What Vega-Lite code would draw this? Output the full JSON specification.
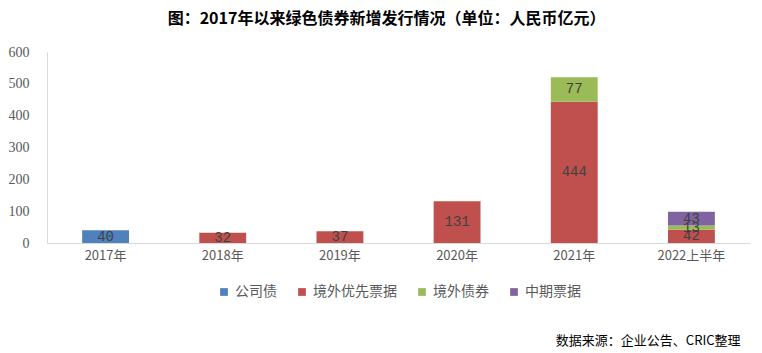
{
  "$schema": "https://vega.github.io/schema/vega-lite/v6.json",
  "width": 703,
  "height": 191,
  "autosize": {"type": "none"},
  "padding": {"left": 47, "top": 52, "right": 12, "bottom": 110},
  "background": "white",
  "title": {
    "text": "图：2017年以来绿色债券新增发行情况（单位：人民币亿元）",
    "font": "Noto Sans CJK SC",
    "fontSize": 16,
    "fontWeight": "bold",
    "color": "#000000",
    "anchor": "middle",
    "offset": 18,
    "dx": -12
  },
  "config": {
    "view": {"stroke": null},
    "axisY": {
      "values": [0, 100, 200, 300, 400, 500, 600],
      "labelOverlap": false,
      "grid": false,
      "ticks": false,
      "labelFont": "Liberation Serif",
      "labelFontSize": 14,
      "labelColor": "#595959",
      "labelPadding": 18,
      "domainColor": "#D9D9D9"
    }
  },
  "data": {
    "values": [
      {"year": "2017年", "type": "公司债", "value": 40, "ord": 0},
      {"year": "2018年", "type": "境外优先票据", "value": 32, "ord": 1},
      {"year": "2019年", "type": "境外优先票据", "value": 37, "ord": 1},
      {"year": "2020年", "type": "境外优先票据", "value": 131, "ord": 1},
      {"year": "2021年", "type": "境外优先票据", "value": 444, "ord": 1},
      {"year": "2021年", "type": "境外债券", "value": 77, "ord": 2},
      {"year": "2022上半年", "type": "境外优先票据", "value": 42, "ord": 1},
      {"year": "2022上半年", "type": "境外债券", "value": 13, "ord": 2},
      {"year": "2022上半年", "type": "中期票据", "value": 43, "ord": 3}
    ]
  },
  "transform": [
    {"stack": "value", "groupby": ["year"], "sort": [{"field": "ord", "order": "ascending"}], "as": ["v0", "v1"]},
    {"calculate": "(datum.v0 + datum.v1) / 2", "as": "vmid"}
  ],
  "encoding": {
    "x": {
      "field": "year",
      "type": "nominal",
      "sort": null,
      "scale": {"paddingInner": 0.6, "paddingOuter": 0.3},
      "axis": {
        "title": "数据来源：企业公告、CRIC整理",
        "titleFont": "Noto Sans CJK SC",
        "titleFontSize": 13,
        "titleFontWeight": "normal",
        "titleColor": "#000000",
        "titleAnchor": "end",
        "titleAlign": "right",
        "titleX": 693,
        "titleY": 97,
        "titleBaseline": "middle",
        "labelAngle": 0,
        "labelFont": "Noto Sans CJK SC",
        "labelFontSize": 13,
        "labelColor": "#595959",
        "labelPadding": 6,
        "ticks": false,
        "domainColor": "#D9D9D9",
        "domainWidth": 1
      }
    }
  },
  "layer": [
    {
      "mark": {"type": "bar"},
      "encoding": {
        "y": {
          "field": "v0",
          "type": "quantitative",
          "scale": {"domain": [0, 600], "nice": false},
          "axis": {"title": null, "values": [0, 100, 200, 300, 400, 500, 600], "labelOverlap": false}
        },
        "y2": {"field": "v1"},
        "color": {
          "field": "type",
          "type": "nominal",
          "scale": {
            "domain": ["公司债", "境外优先票据", "境外债券", "中期票据"],
            "range": ["#4F81BD", "#C0504D", "#9BBB59", "#8064A2"]
          },
          "legend": {
            "title": null,
            "orient": "none",
            "direction": "horizontal",
            "legendX": 170,
            "legendY": 233,
            "symbolType": "square",
            "symbolSize": 60,
            "symbolStrokeWidth": 0,
            "labelFont": "Noto Sans CJK SC",
            "labelFontSize": 14,
            "labelColor": "#595959",
            "labelOffset": 4,
            "columnPadding": 18
          }
        }
      }
    },
    {
      "mark": {"type": "text", "font": "Liberation Mono", "fontSize": 14, "color": "#404040", "baseline": "middle"},
      "encoding": {
        "y": {"field": "vmid", "type": "quantitative", "axis": {"title": null, "values": [0, 100, 200, 300, 400, 500, 600], "labelOverlap": false}},
        "text": {"field": "value", "type": "quantitative"}
      }
    }
  ]
}
